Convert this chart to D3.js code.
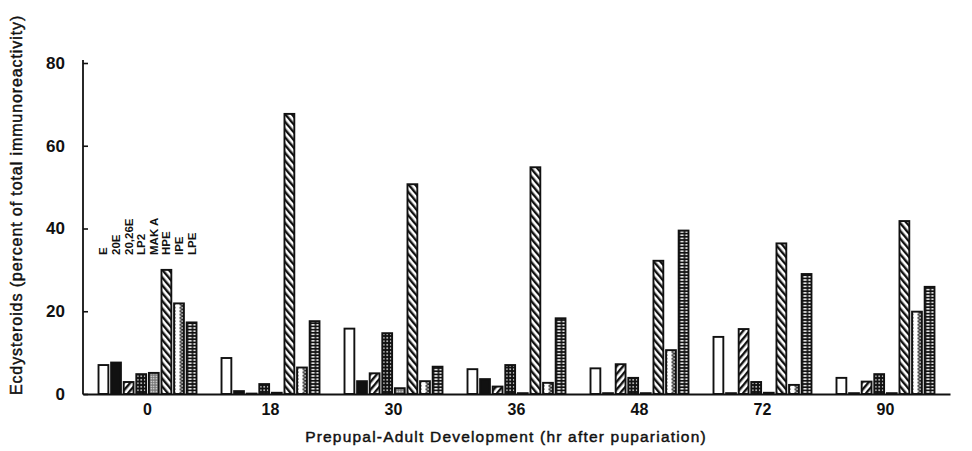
<!DOCTYPE html>
<html>
<head>
<meta charset="utf-8">
<script src="https://cdn.jsdelivr.net/npm/d3@7"></script>
<style>
  body { margin: 0; background: #fff; }
  text { font-family: "Liberation Sans", Arial, sans-serif; fill: #111; }
</style>
</head>
<body>
<div id="chart"></div>
<script>
// hours after pupariation
var groups = ["0", "18", "30", "36", "48", "72", "90"];
var series = ["E", "20E", "20,26E", "LP2", "MAK A", "HPE", "IPE", "LPE"];

// percent of total immunoreactivity, one array per ecdysteroid
var valE     = [7.0, 8.7, 15.8, 6.0, 6.2, 13.8, 3.9];
var val20E   = [7.6, 0.7, 3.1, 3.6, 0.2, 0.2, 0.2];
var val2026E = [2.9, 0.1, 5.0, 1.8, 7.2, 15.7, 3.0];
var valLP2   = [4.8, 2.4, 14.7, 7.0, 3.9, 2.9, 4.8];
var valMAKA  = [5.1, 0.3, 1.4, 0.2, 0.2, 0.3, 0.2];
var valHPE   = [30.0, 67.7, 50.7, 54.8, 32.2, 36.4, 41.8];
var valIPE   = [21.9, 6.4, 3.1, 2.7, 10.6, 2.2, 19.9];
var valLPE   = [17.3, 17.6, 6.6, 18.3, 39.5, 29.0, 25.9];

var yTicks = [0, 20, 40, 60, 80];

var seriesValues = [valE, val20E, val2026E, valLP2, valMAKA, valHPE, valIPE, valLPE];
var fills = ["#fff", "#111", "url(#p2026)", "url(#pLP2)", "url(#pMAK)", "url(#pHPE)", "url(#pIPE)", "url(#pLPE)"];

var width = 972, height = 451;
var svg = d3.select("#chart").append("svg")
  .attr("width", width)
  .attr("height", height);

// ---- patterns for the bar fills
var defs = svg.append("defs");

function stripes(id, angle) {
  var p = defs.append("pattern")
    .attr("id", id)
    .attr("patternUnits", "userSpaceOnUse")
    .attr("width", 5).attr("height", 5)
    .attr("patternTransform", "rotate(" + angle + ")");
  p.append("rect").attr("width", 5).attr("height", 5).attr("fill", "#fff");
  p.append("rect").attr("width", 2.4).attr("height", 5).attr("fill", "#111");
}
stripes("p2026", 40);
stripes("pHPE", -40);

var lp2 = defs.append("pattern").attr("id", "pLP2")
  .attr("patternUnits", "userSpaceOnUse").attr("width", 3.5).attr("height", 3.5);
lp2.append("rect").attr("width", 3.5).attr("height", 3.5).attr("fill", "#111");
lp2.append("circle").attr("cx", 1.75).attr("cy", 1.75).attr("r", 0.8).attr("fill", "#fff");

var mak = defs.append("pattern").attr("id", "pMAK")
  .attr("patternUnits", "userSpaceOnUse").attr("width", 2.5).attr("height", 2.5);
mak.append("rect").attr("width", 2.5).attr("height", 2.5).attr("fill", "#777");
mak.append("circle").attr("cx", 1.25).attr("cy", 1.25).attr("r", 0.7).attr("fill", "#fff");

var ipe = defs.append("pattern").attr("id", "pIPE")
  .attr("patternUnits", "userSpaceOnUse").attr("width", 10).attr("height", 3.4);
ipe.append("rect").attr("width", 10).attr("height", 3.4).attr("fill", "#fff");
ipe.append("ellipse").attr("cx", 5).attr("cy", 1.7).attr("rx", 2.4).attr("ry", 1.1)
  .attr("fill", "none").attr("stroke", "#111").attr("stroke-width", 1.1);

var lpe = defs.append("pattern").attr("id", "pLPE")
  .attr("patternUnits", "userSpaceOnUse").attr("width", 5).attr("height", 3.2);
lpe.append("rect").attr("width", 5).attr("height", 3.2).attr("fill", "#111");
lpe.append("rect").attr("x", 0.8).attr("y", 0.9).attr("width", 3.4).attr("height", 1.4).attr("fill", "#fff");

// ---- scales
var x0 = d3.scaleBand().domain(groups).range([83, 950])
  .paddingInner(0.187).paddingOuter(0.118);
var x1 = d3.scaleBand().domain(series).range([0, x0.bandwidth()])
  .paddingInner(0.22).paddingOuter(0.08);
var y = d3.scaleLinear().domain([0, 80]).range([394, 63]);

// ---- bars
var rows = groups.map(function(g, gi) {
  return series.map(function(s, si) {
    return {group: g, key: s, index: si, value: seriesValues[si][gi]};
  });
});

var grp = svg.selectAll(".grp")
  .data(rows)
  .enter().append("g")
  .attr("class", "grp")
  .attr("transform", function(d, i) { return "translate(" + x0(groups[i]) + ",0)"; });

grp.selectAll("rect")
  .data(function(d) { return d; })
  .enter().append("rect")
  .attr("x", function(d) { return x1(d.key); })
  .attr("y", function(d) { return y(d.value); })
  .attr("width", x1.bandwidth())
  .attr("height", function(d) { return y(0) - y(d.value); })
  .attr("fill", function(d) { return fills[d.index]; })
  .attr("stroke", "#111")
  .attr("stroke-width", 1.9);

// ---- series names above the first group
svg.append("g").selectAll("text")
  .data(series)
  .enter().append("text")
  .attr("transform", function(d) {
    return "translate(" + (x0(groups[0]) + x1(d) + x1.bandwidth() / 2 + 4) + ",255) rotate(-90)";
  })
  .style("font-size", "11.5px")
  .style("font-weight", "bold")
  .text(function(d) { return d; });

// ---- axes
var yAxis = d3.axisRight(y).tickValues(yTicks).tickSize(5).tickSizeOuter(0).tickFormat(d3.format("d"));
var yg = svg.append("g").attr("transform", "translate(83,0)").call(yAxis);
yg.select(".domain").attr("stroke", "#111").attr("stroke-width", 1.8).attr("d", "M0,60V394.5");
yg.selectAll(".tick line").attr("stroke", "#111").attr("stroke-width", 1.6);
yg.selectAll(".tick text")
  .attr("x", -18).attr("text-anchor", "end")
  .style("font-size", "17px").style("font-weight", "bold")
  .attr("fill", "#111");

var xAxis = d3.axisBottom(x0).tickSize(0).tickSizeOuter(0);
var xg = svg.append("g").attr("transform", "translate(0,394)").call(xAxis);
xg.select(".domain").attr("stroke", "#111").attr("stroke-width", 1.8);
xg.selectAll(".tick text")
  .attr("dy", "1.1em")
  .style("font-size", "16px").style("font-weight", "bold")
  .attr("fill", "#111");

svg.append("text")
  .attr("x", 506).attr("y", 442)
  .attr("text-anchor", "middle")
  .attr("stroke", "#111").attr("stroke-width", 0.45)
  .style("font-size", "15.5px").style("letter-spacing", "1.2px")
  .text("Prepupal-Adult Development (hr after pupariation)");

svg.append("text")
  .attr("transform", "translate(22,205) rotate(-90)")
  .attr("text-anchor", "middle")
  .attr("stroke", "#111").attr("stroke-width", 0.45)
  .style("font-size", "16px").style("letter-spacing", "0.9px")
  .text("Ecdysteroids (percent of total immunoreactivity)");
</script>
</body>
</html>
